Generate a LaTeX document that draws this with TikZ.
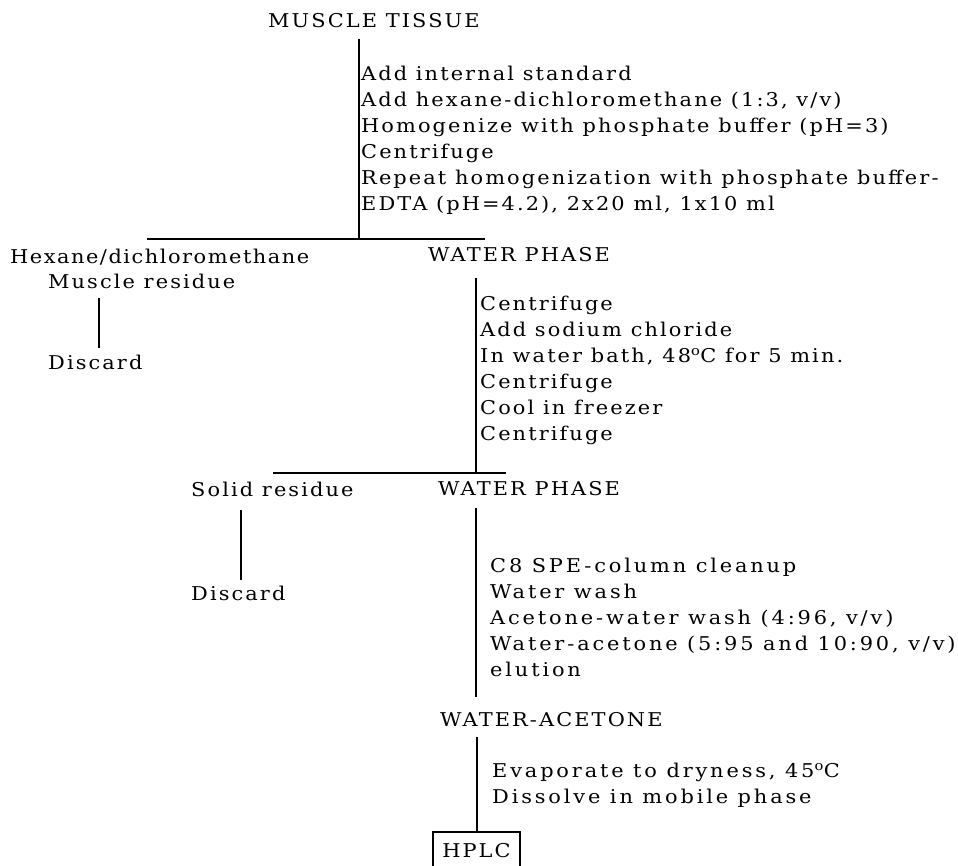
\documentclass[tikz,border=0pt]{standalone}
\usepackage{fontspec}
\setmainfont[LetterSpace=11, FakeStretch=1.1]{DejaVu Serif}
\usepackage{tikz}
\usetikzlibrary{positioning}
\tikzset{
    phase/.style={inner sep=0pt, anchor=west, font=\fontsize{19}{26}\selectfont},
    steps/.style={inner sep=0pt, anchor=west, align=left, font=\fontsize{19}{26}\selectfont},
    widesteps/.style={steps, font=\fontsize{19}{26}\selectfont\addfontfeature{LetterSpace=15}},
    final/.style={draw, line width=2pt, inner sep=0pt, minimum width=87pt, minimum height=38pt, font=\fontsize{19}{26}\selectfont},
    line/.style={line width=2.5pt},
}

\begin{document}
\begin{tikzpicture}[x=1pt, y=-1pt]
    \useasboundingbox (0,0) rectangle (958,866);
    \clip (0,0) rectangle (958,866);

    \node[phase] (tissue) at (268,21) {MUSCLE TISSUE};
    \node[steps] (extract) at (361,140) {Add internal standard\\Add hexane-dichloromethane (1:3, v/v)\\Homogenize with phosphate buffer (pH=3)\\Centrifuge\\Repeat homogenization with phosphate buffer-\\EDTA (pH=4.2), 2x20 ml, 1x10 ml};

    \node[phase, font=\fontsize{19}{26}\selectfont\addfontfeature{LetterSpace=8}] (organic) at (10,257) {Hexane/dichloromethane};
    \node[phase] (muscle) at (48,281) {Muscle residue};
    \node[phase] (discard1) at (48,362) {Discard};
    \node[phase] (water1) at (428,255) {WATER PHASE};
    \node[steps] (salting) at (480,370) {Centrifuge\\Add sodium chloride\\In water bath, 48\textsuperscript{o}C for 5 min.\\Centrifuge\\Cool in freezer\\Centrifuge};

    \node[phase] (solid) at (191,489) {Solid residue};
    \node[phase] (discard2) at (191,593) {Discard};
    \node[phase] (water2) at (438,489) {WATER PHASE};
    \node[widesteps] (spe) at (490,617) {C8 SPE-column cleanup\\Water wash\\Acetone-water wash (4:96, v/v)\\Water-acetone (5:95 and 10:90, v/v)\\elution};

    \node[phase] (eluate) at (440,720) {WATER-ACETONE};
    \node[widesteps] (evap) at (492,785) {Evaporate to dryness, 45\textsuperscript{o}C\\Dissolve in mobile phase};
    \node[final] (hplc) at (476.5,851) {HPLC};

    % junctions of the flow lines
    \coordinate (t1) at (359,39);
    \coordinate (s1) at (359,239);
    \coordinate (h1a) at (147,239);
    \coordinate (h1b) at (485,239);
    \coordinate (t2) at (476,278);
    \coordinate (s2) at (476,473);
    \coordinate (h2a) at (273,473);
    \coordinate (h2b) at (506,473);
    \coordinate (t3) at (476,508);
    \coordinate (b3) at (476,697);
    \coordinate (t4) at (477,737);
    \coordinate (d1a) at (99,298);
    \coordinate (d1b) at (99,348);
    \coordinate (d2a) at (241,510);
    \coordinate (d2b) at (241,580);

    \draw[line] (t1) -- (s1);
    \draw[line] (h1a) -- (h1b);
    \draw[line] (d1a) -- (d1b);
    \draw[line] (t2) -- (s2);
    \draw[line] (h2a) -- (h2b);
    \draw[line] (d2a) -- (d2b);
    \draw[line] (t3) -- (b3);
    \draw[line] (t4) -- (hplc.north -| t4);
\end{tikzpicture}
\end{document}
